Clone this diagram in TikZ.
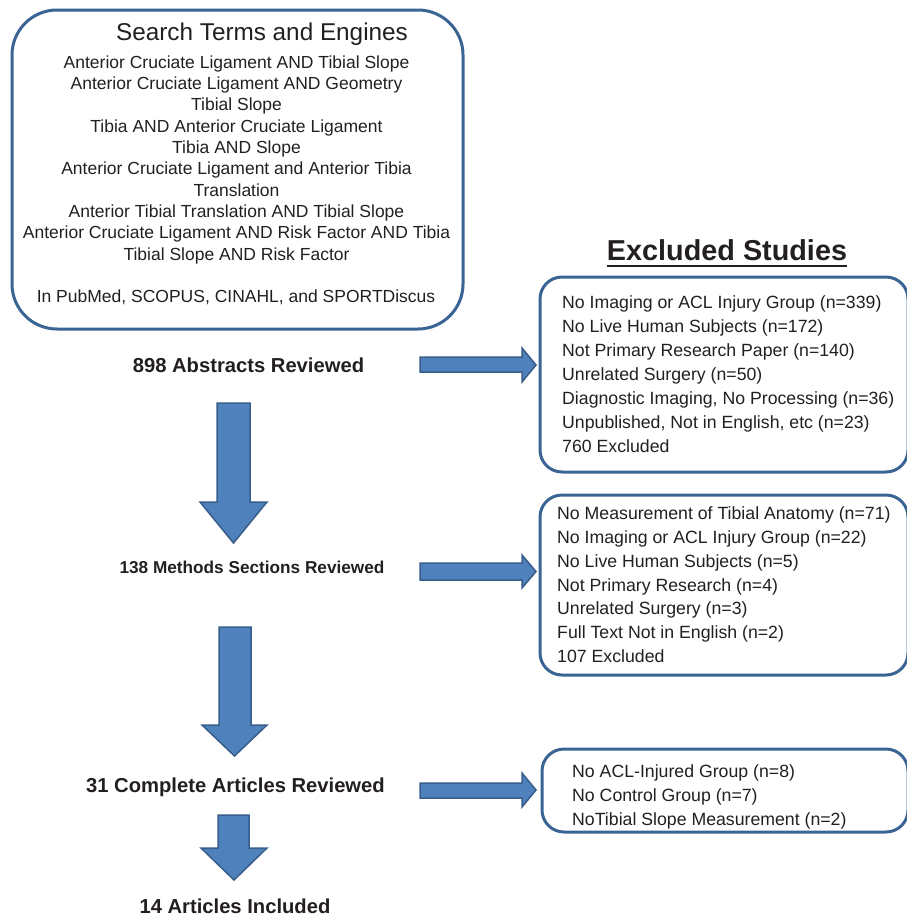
\documentclass[tikz,border=0pt]{standalone}
\usepackage{fontspec}
\setmainfont{Liberation Sans}
\definecolor{boxblue}{HTML}{3A6494}
\definecolor{arrfill}{HTML}{4F81BD}
\definecolor{arredge}{HTML}{385D8A}
\definecolor{ink}{HTML}{231F20}
\begin{document}
\begin{tikzpicture}[x=1pt,y=-1pt,
  roundbox/.style={draw=boxblue,line width=3pt,rounded corners=#1,inner sep=0},
  blockarrow/.style={fill=arrfill,draw=arredge,line width=1.5pt,line join=miter},
  term/.style={anchor=base,font=\fontsize{17.5}{21}\selectfont,text=ink,inner sep=0},
  stage/.style={anchor=base,font=\fontsize{20.2}{24}\selectfont\bfseries,text=ink,inner sep=0},
  excl/.style={anchor=base west,font=\fontsize{17.7}{21}\selectfont,text=ink,inner sep=0}]
\useasboundingbox (0,0) rectangle (906,918);

% boxes
\node[roundbox=45pt,minimum width=451pt,minimum height=319pt] (search) at (237.5,169.5) {};
\node[roundbox=22pt,minimum width=368pt,minimum height=195pt] (ex1) at (724,374.5) {};
\node[roundbox=22pt,minimum width=368pt,minimum height=180pt] (ex2) at (724,585) {};
\node[roundbox=22pt,minimum width=366pt,minimum height=83pt] (ex3) at (725,790.5) {};

% search box text
\node[term,font=\fontsize{24.3}{28}\selectfont] (head) at (262,40) {Search Terms and Engines};
\foreach \t [count=\i] in {
  {Anterior Cruciate Ligament AND Tibial Slope},
  {Anterior Cruciate Ligament AND Geometry},
  {Tibial Slope},
  {Tibia AND Anterior Cruciate Ligament},
  {Tibia AND Slope},
  {Anterior Cruciate Ligament and Anterior Tibia},
  {Translation},
  {Anterior Tibial Translation AND Tibial Slope},
  {Anterior Cruciate Ligament AND Risk Factor AND Tibia},
  {Tibial Slope AND Risk Factor}}
  \node[term] (t\i) at (236.5,{68.3+21.3*(\i-1)}) {\t};
\node[term] (engines) at (236,302.7) {In PubMed, SCOPUS, CINAHL, and SPORTDiscus};

% stages
\node[stage] (s1) at (248.5,372) {898 Abstracts Reviewed};
\node[stage,font=\fontsize{17.2}{21}\selectfont\bfseries] (s2) at (252,573) {138 Methods Sections Reviewed};
\node[stage] (s3) at (235.5,792) {31 Complete Articles Reviewed};
\node[stage] (s4) at (235,913) {14 Articles Included};

% excluded title
\node[stage,font=\fontsize{28.8}{33}\selectfont\bfseries] (extitle) at (727,260) {Excluded Studies};
\draw[ink,line width=2pt] ([yshift=-6pt]extitle.base west) -- ([yshift=-6pt]extitle.base east);

% excluded lists
\foreach \t [count=\i] in {
  {No Imaging or ACL Injury Group (n=339)},
  {No Live Human Subjects (n=172)},
  {Not Primary Research Paper (n=140)},
  {Unrelated Surgery (n=50)},
  {Diagnostic Imaging, No Processing (n=36)},
  {Unpublished, Not in English, etc (n=23)},
  {760 Excluded}}
  \node[excl] (a\i) at (562,{308+24.1*(\i-1)}) {\t};
\foreach \t [count=\i] in {
  {No Measurement of Tibial Anatomy (n=71)},
  {No Imaging or ACL Injury Group (n=22)},
  {No Live Human Subjects (n=5)},
  {Not Primary Research (n=4)},
  {Unrelated Surgery (n=3)},
  {Full Text Not in English (n=2)},
  {107 Excluded}}
  \node[excl] (b\i) at (557,{519.3+23.9*(\i-1)}) {\t};
\foreach \t [count=\i] in {
  {No ACL-Injured Group (n=8)},
  {No Control Group (n=7)},
  {NoTibial Slope Measurement (n=2)}}
  \node[excl] (c\i) at (572,{777.3+24.3*(\i-1)}) {\t};

% down arrows
\draw[blockarrow] (217,403) -- (250,403) -- (250,502) -- (267,502) -- (233.5,543) -- (200,502) -- (217,502) -- cycle;
\draw[blockarrow] (219,627) -- (251,627) -- (251,725) -- (267,725) -- (234.5,756) -- (202,725) -- (219,725) -- cycle;
\draw[blockarrow] (218,815) -- (249,815) -- (249,848) -- (267,848) -- (234,880) -- (201,848) -- (218,848) -- cycle;

% right arrows
\draw[blockarrow] (420,357) -- (522,357) -- (522,348) -- (536,365) -- (522,382) -- (522,372) -- (420,372) -- cycle;
\draw[blockarrow] (420,563) -- (522,563) -- (522,555) -- (536,571.5) -- (522,588) -- (522,580) -- (420,580) -- cycle;
\draw[blockarrow] (420,783) -- (522,783) -- (522,773) -- (536,790) -- (522,807) -- (522,798) -- (420,798) -- cycle;
\end{tikzpicture}
\end{document}
